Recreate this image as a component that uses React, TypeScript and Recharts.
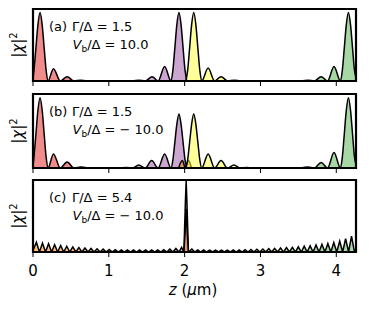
import React from 'react';
import { ComposedChart, Area, XAxis, YAxis, ReferenceArea } from 'recharts';

const Z_MAX = 4.26;
const X_TICKS = [0, 1, 2, 3, 4];

const COLORS = { red: '#e41a1c', purple: '#984ea3', orange: '#ff7f00', yellow: '#ffff33', green: '#4daf4a' };

// ---------- panel (a) ----------
const redAZ = [0, 0.013, 0.038, 0.065, 0.093, 0.121, 0.148, 0.173, 0.198, 0.27, 0.36, 0.45, 0.54, 0.63, 0.72];
const redAV = [0.02, 0.15, 0.45, 0.78, 0.95, 0.78, 0.45, 0.15, 0, 0.17, 0, 0.06, 0, 0.012, 0];
const purpleAZ = [1.3, 1.395, 1.48, 1.57, 1.65, 1.736, 1.82, 1.845, 1.87, 1.897, 1.925, 1.953, 1.98, 2.005, 2.03];
const purpleAV = [0, 0.012, 0, 0.06, 0, 0.2, 0, 0.15, 0.45, 0.78, 0.95, 0.78, 0.45, 0.15, 0];
const yellowAZ = [2.015, 2.04, 2.065, 2.092, 2.12, 2.148, 2.175, 2.2, 2.225, 2.31, 2.395, 2.48, 2.57, 2.655, 2.75];
const yellowAV = [0, 0.15, 0.45, 0.78, 0.95, 0.78, 0.45, 0.15, 0, 0.18, 0, 0.06, 0, 0.012, 0];
const greenAZ = [3.53, 3.625, 3.71, 3.8, 3.885, 3.97, 4.055, 4.08, 4.105, 4.132, 4.16, 4.188, 4.215, 4.24, 4.26];
const greenAV = [0, 0.012, 0, 0.06, 0, 0.2, 0, 0.15, 0.45, 0.78, 0.95, 0.78, 0.45, 0.15, 0.04];

// ---------- panel (b) ----------
const redBZ = [0, 0.013, 0.038, 0.065, 0.093, 0.121, 0.148, 0.173, 0.198, 0.27, 0.36, 0.45, 0.54, 0.63, 0.72];
const redBV = [0.02, 0.15, 0.45, 0.78, 0.95, 0.78, 0.45, 0.15, 0, 0.19, 0, 0.08, 0, 0.015, 0];
const purpleBZ = [1.13, 1.225, 1.31, 1.395, 1.48, 1.565, 1.65, 1.736, 1.82, 1.845, 1.87, 1.897, 1.925, 1.953, 1.98, 2.005, 2.03];
const purpleBV = [0, 0.008, 0, 0.04, 0, 0.1, 0, 0.19, 0, 0.11, 0.34, 0.59, 0.73, 0.59, 0.34, 0.11, 0];
const orangeBZ = [1.92, 1.97, 2.01, 2.05, 2.09];
const orangeBV = [0, 0.1, 0, 0.1, 0];
const yellowBZ = [2.015, 2.04, 2.065, 2.092, 2.12, 2.148, 2.175, 2.2, 2.225, 2.31, 2.395, 2.48, 2.565, 2.65, 2.735, 2.82, 2.91];
const yellowBV = [0, 0.11, 0.34, 0.59, 0.73, 0.59, 0.34, 0.11, 0, 0.19, 0, 0.1, 0, 0.04, 0, 0.008, 0];
const greenBZ = [3.53, 3.625, 3.71, 3.8, 3.885, 3.97, 4.055, 4.08, 4.105, 4.132, 4.16, 4.188, 4.215, 4.24, 4.26];
const greenBV = [0, 0.015, 0, 0.075, 0, 0.21, 0, 0.15, 0.45, 0.78, 0.95, 0.78, 0.45, 0.15, 0.04];

// ---------- panel (c) ----------
const orangeCZ = [
  0, 0.045, 0.085, 0.125, 0.165, 0.205, 0.245, 0.285, 0.325, 0.365, 0.405, 0.445, 0.485, 0.525, 0.565,
  0.605, 0.645, 0.685, 0.725, 0.765, 0.805, 0.845, 0.885, 0.925, 0.965, 1.005, 1.045, 1.085, 1.125, 1.165,
  1.205, 1.245, 1.285, 1.325, 1.365, 1.405, 1.445, 1.485, 1.525, 1.565, 1.605, 1.645, 1.685, 1.725, 1.765,
  1.99, 2.005, 2.02, 2.035, 2.05,
];
const orangeCV = [
  0.02, 0.135, 0, 0.125, 0, 0.115, 0, 0.1, 0, 0.09, 0, 0.08, 0, 0.07, 0,
  0.06, 0, 0.055, 0, 0.05, 0, 0.045, 0, 0.04, 0, 0.036, 0, 0.033, 0, 0.03,
  0, 0.03, 0, 0.028, 0, 0.028, 0, 0.028, 0, 0.03, 0, 0.03, 0, 0.032, 0,
  0, 0.25, 0.6, 0.25, 0,
];
const purpleCZ = [1.765, 1.805, 1.845, 1.885, 1.925, 1.96, 1.99, 2.0, 2.01, 2.02, 2.03, 2.04, 2.05];
const purpleCV = [0, 0.04, 0, 0.05, 0, 0.065, 0, 0.35, 0.7, 0.99, 0.7, 0.35, 0];
const yellowCZ = [
  2.05, 2.095, 2.134, 2.173, 2.212, 2.251, 2.29, 2.329, 2.368, 2.407, 2.446, 2.485, 2.524, 2.563, 2.602,
  2.641, 2.68, 2.719, 2.758, 2.797, 2.836, 2.875, 2.914, 2.953, 2.992, 3.031, 3.07, 3.109, 3.148, 3.187,
  3.226, 3.265, 3.304,
];
const yellowCV = [
  0, 0.04, 0, 0.03, 0, 0.028, 0, 0.026, 0, 0.025, 0, 0.025, 0, 0.026, 0,
  0.028, 0, 0.03, 0, 0.032, 0, 0.035, 0, 0.038, 0, 0.042, 0, 0.046, 0, 0.05,
  0, 0.055, 0,
];
const greenCZ = [
  3.304, 3.343, 3.382, 3.421, 3.46, 3.499, 3.538, 3.577, 3.616, 3.655, 3.694, 3.733, 3.772, 3.811, 3.85,
  3.889, 3.928, 3.967, 4.006, 4.045, 4.084, 4.123, 4.162, 4.201, 4.24, 4.26,
];
const greenCV = [
  0, 0.06, 0, 0.065, 0, 0.072, 0, 0.08, 0, 0.088, 0, 0.097, 0, 0.107, 0,
  0.118, 0, 0.132, 0, 0.15, 0, 0.185, 0, 0.22, 0, 0.04,
];

// ---------- text ----------
const PANEL_TAGS = ['(a)', '(b)', '(c)'];
const GAMMA_VALUES = ['1.5', '1.5', '5.4'];
const VB_VALUES = ['10.0', '\u2212 10.0', '\u2212 10.0'];

const FONT = '"DejaVu Sans", sans-serif';

type Series = { z: number[]; v: number[]; color: string };

const rows = (z: number[], v: number[]) => z.map((zz, i) => ({ z: zz, v: v[i] }));

type PanelProps = {
  index: number;
  top: number;
  height: number;
  marginTop: number;
  axisHeight: number;
  series: Series[];
  curve: 'monotone' | 'linear';
  showTickLabels: boolean;
};

function Panel({ index, top, height, marginTop, axisHeight, series, curve, showTickLabels }: PanelProps) {
  const plotTop = marginTop;
  const plotH = height - marginTop - axisHeight;
  return (
    <div style={{ position: 'absolute', left: 0, top, width: 374, height }}>
      <ComposedChart width={374} height={height} margin={{ top: marginTop, right: 18, bottom: 0, left: 33 }}>
        <XAxis
          dataKey="z"
          type="number"
          domain={[0, Z_MAX]}
          allowDataOverflow
          ticks={X_TICKS}
          height={axisHeight}
          axisLine={false}
          stroke="#000"
          tickSize={5}
          tickMargin={8}
          tickFormatter={(t: number) => (showTickLabels ? String(t) : '')}
          tick={{ fontSize: 15, fill: '#000', fontFamily: FONT }}
          interval={0}
        />
        <YAxis hide type="number" domain={[0, 1]} allowDataOverflow />
        {series.map((s, i) => (
          <Area
            key={i}
            data={rows(s.z, s.v)}
            dataKey="v"
            type={curve}
            fill={s.color}
            fillOpacity={0.5}
            stroke="#000"
            strokeWidth={1.5}
            baseValue={0}
            dot={false}
            activeDot={false}
            isAnimationActive={false}
          />
        ))}
        <ReferenceArea x1={0} x2={Z_MAX} y1={0} y2={1} fill="none" stroke="#000" strokeWidth={2.2} ifOverflow="visible" />
        <text
          x={23}
          y={plotTop + plotH / 2}
          transform={`rotate(-90 23 ${plotTop + plotH / 2})`}
          textAnchor="middle"
          fontSize={15}
          fontFamily={FONT}
          fill="#000"
        >
          |<tspan fontStyle="italic">χ</tspan>|<tspan fontSize={10} dy={-6}>2</tspan>
        </text>
        <text x={49} y={plotTop + 22} fontSize={13} fontFamily={FONT} fill="#000">
          {PANEL_TAGS[index]}
        </text>
        <text x={72} y={plotTop + 22} fontSize={13} fontFamily={FONT} fill="#000">
          {`Γ/Δ = ${GAMMA_VALUES[index]}`}
        </text>
        <text x={72.5} y={plotTop + 39.5} fontSize={13} fontFamily={FONT} fill="#000">
          <tspan fontStyle="italic">V</tspan>
          <tspan fontSize={9} dy={3}>b</tspan>
          <tspan dy={-3}>{`/Δ = ${VB_VALUES[index]}`}</tspan>
        </text>
        {showTickLabels ? (
          <text x={193} y={120} textAnchor="middle" fontSize={15} fontFamily={FONT} fill="#000">
            <tspan fontStyle="italic">z</tspan> (<tspan fontStyle="italic">μ</tspan>m)
          </text>
        ) : null}
      </ComposedChart>
    </div>
  );
}

export default function App() {
  const seriesA: Series[] = [
    { z: redAZ, v: redAV, color: COLORS.red },
    { z: purpleAZ, v: purpleAV, color: COLORS.purple },
    { z: yellowAZ, v: yellowAV, color: COLORS.yellow },
    { z: greenAZ, v: greenAV, color: COLORS.green },
  ];
  const seriesB: Series[] = [
    { z: redBZ, v: redBV, color: COLORS.red },
    { z: purpleBZ, v: purpleBV, color: COLORS.purple },
    { z: orangeBZ, v: orangeBV, color: COLORS.orange },
    { z: yellowBZ, v: yellowBV, color: COLORS.yellow },
    { z: greenBZ, v: greenBV, color: COLORS.green },
  ];
  const seriesC: Series[] = [
    { z: purpleCZ, v: purpleCV, color: COLORS.purple },
    { z: orangeCZ, v: orangeCV, color: COLORS.orange },
    { z: yellowCZ, v: yellowCV, color: COLORS.yellow },
    { z: greenCZ, v: greenCV, color: COLORS.green },
  ];
  return (
    <div style={{ position: 'absolute', left: 0, top: 0, width: 374, height: 312, background: '#fff' }}>
      <Panel index={0} top={0} height={88} marginTop={9} axisHeight={7} series={seriesA} curve="monotone" showTickLabels={false} />
      <Panel index={1} top={88} height={87} marginTop={6} axisHeight={7} series={seriesB} curve="monotone" showTickLabels={false} />
      <Panel index={2} top={175} height={137} marginTop={5} axisHeight={60} series={seriesC} curve="linear" showTickLabels={true} />
    </div>
  );
}
